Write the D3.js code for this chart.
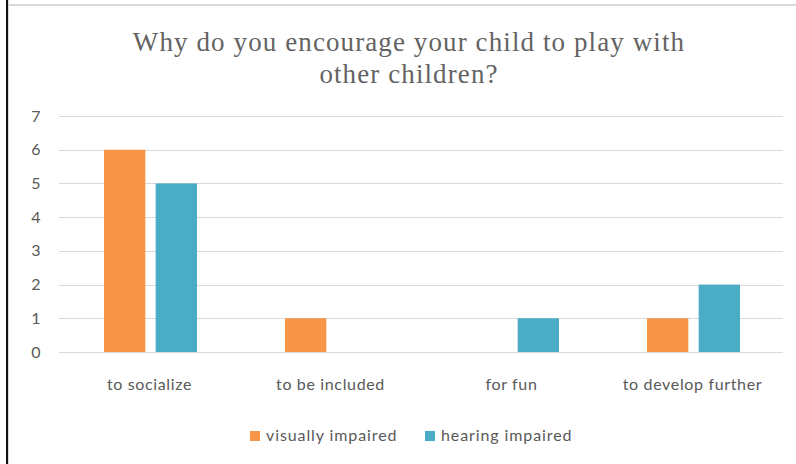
<!DOCTYPE html>
<html><head><meta charset="utf-8">
<script src="https://cdn.jsdelivr.net/npm/d3@7"></script>
<style>body{margin:0;background:#fff}svg{display:block}</style>
</head><body>
<script>
const categories = ["to socialize", "to be included", "for fun", "to develop further"];
const seriesNames = ["visually impaired", "hearing impaired"];
const visuallyImpaired = [6, 1, 0, 1];
const hearingImpaired = [5, 0, 1, 2];
const yTicks = [0, 1, 2, 3, 4, 5, 6, 7];
const colors = ["#F79646", "#4BACC6"];
const titleLines = ["Why do you encourage your child to play with", "other children?"];

const W = 796, H = 464;
const svg = d3.select("body").append("svg").attr("width", W).attr("height", H);

// frame
svg.append("rect").attr("x", 6).attr("y", 0).attr("width", 2).attr("height", H).attr("fill", "#111");
svg.append("rect").attr("x", 8).attr("y", 0).attr("width", 1).attr("height", H).attr("fill", "#ddd");
svg.append("rect").attr("x", 8).attr("y", 4).attr("width", W - 8).attr("height", 2).attr("fill", "#d9d9d9");

const x0 = d3.scaleBand().domain(categories).range([59, 783]);
const x1 = d3.scaleBand().domain(seriesNames).range([45, 138]).paddingInner(0.2);
const y = d3.scaleLinear().domain([0, 7]).range([352, 116]);

const labelFont = "Lato, 'Open Sans', sans-serif";

// title
const title = svg.append("text").attr("text-anchor", "middle")
  .attr("font-family", "'Liberation Serif', 'DejaVu Serif', serif")
  .attr("font-size", 27).attr("letter-spacing", 1.1).attr("fill", "#636363");
titleLines.forEach((t, i) => title.append("tspan").attr("x", 409).attr("y", 51 + i * 32).text(t));

// grid
svg.append("g").selectAll("line").data(yTicks).join("line")
  .attr("x1", 59).attr("x2", 783)
  .attr("y1", d => Math.round(y(d)) + 0.5).attr("y2", d => Math.round(y(d)) + 0.5)
  .attr("stroke", "#d9d9d9").attr("stroke-width", 1);

// y axis labels
const yAxis = svg.append("g").attr("transform", "translate(36,0)")
  .call(d3.axisLeft(y).tickValues(yTicks).tickSize(0).tickPadding(0).tickFormat(d3.format("d")));
yAxis.select(".domain").remove();
yAxis.selectAll("text").attr("font-family", labelFont).attr("font-size", 16).attr("fill", "#595959")
  .attr("text-anchor", "middle").attr("x", 0);

// bars
const data = categories.map((c, i) => ({c, vals: [visuallyImpaired[i], hearingImpaired[i]]}));
const groups = svg.append("g").selectAll("g").data(data).join("g")
  .attr("transform", d => `translate(${x0(d.c)},0)`);
groups.selectAll("rect").data(d => d.vals.map((v, j) => ({s: seriesNames[j], v, j})).filter(e => e.v > 0))
  .join("rect")
  .attr("x", e => x1(e.s)).attr("width", x1.bandwidth())
  .attr("y", e => y(e.v)).attr("height", e => y(0) - y(e.v))
  .attr("fill", e => colors[e.j]);

// x axis labels
const xAxis = svg.append("g").attr("transform", "translate(0,390)")
  .call(d3.axisBottom(x0).tickSize(0).tickPadding(0));
xAxis.select(".domain").remove();
xAxis.selectAll("text").attr("font-family", labelFont).attr("font-size", 16).attr("fill", "#595959")
  .attr("letter-spacing", 0.65).attr("dy", 0).attr("y", 0);

// legend
const legend = svg.append("g");
const legX = [250, 425];
seriesNames.forEach((s, i) => {
  const g = legend.append("g").attr("transform", `translate(${legX[i]},0)`);
  g.append("rect").attr("x", 0).attr("y", 431).attr("width", 10).attr("height", 10).attr("fill", colors[i]);
  g.append("text").attr("x", 16).attr("y", 441).attr("font-family", labelFont).attr("font-size", 16)
    .attr("letter-spacing", 0.9).attr("fill", "#595959").text(s);
});
</script>
</body></html>
